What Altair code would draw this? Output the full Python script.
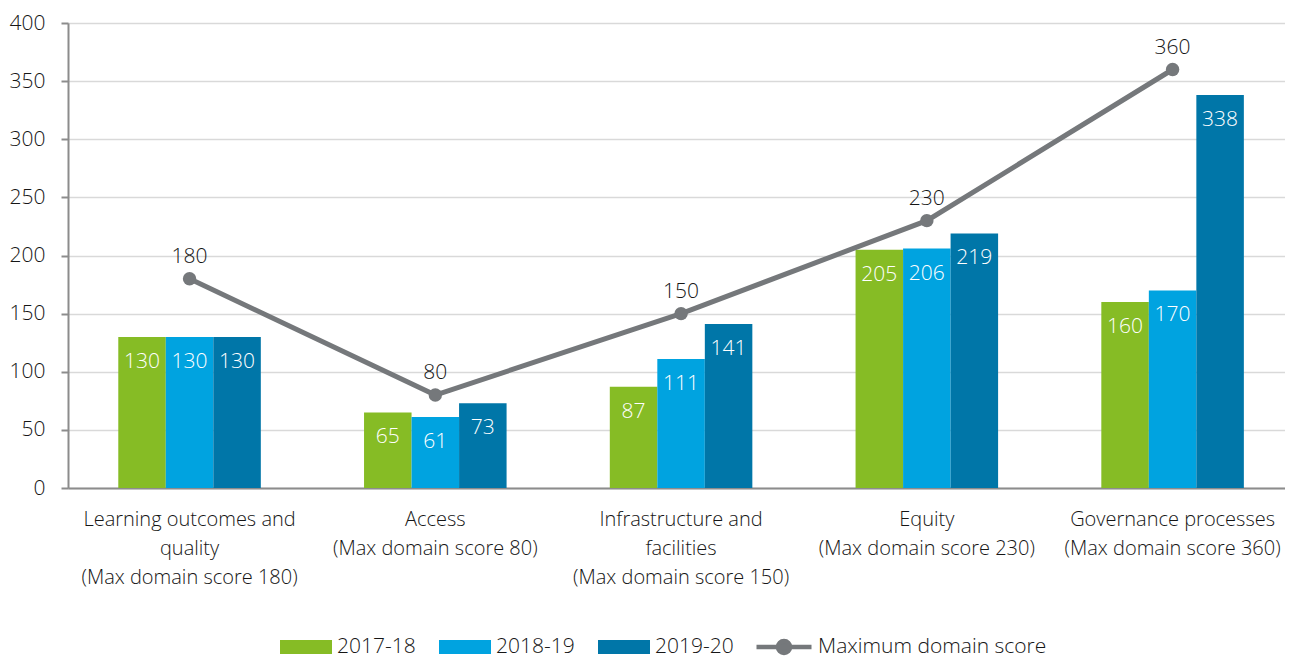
import altair as alt
import pandas as pd

categories = [
    "Learning outcomes and|quality|(Max domain score 180)",
    "Access|(Max domain score 80)",
    "Infrastructure and|facilities|(Max domain score 150)",
    "Equity|(Max domain score 230)",
    "Governance processes|(Max domain score 360)",
]
years = ["2017-18", "2018-19", "2019-20"]
score_2017_18 = [130, 65, 87, 205, 160]
score_2018_19 = [130, 61, 111, 206, 170]
score_2019_20 = [130, 73, 141, 219, 338]
max_domain_score = [180, 80, 150, 230, 360]
line_series = "Maximum domain score"
y_ticks = [0, 50, 100, 150, 200, 250, 300, 350, 400]

bar_colors = ["#86BC25", "#00A3E0", "#0076A8"]
line_color = "#75787B"
text_color = "#161616"
axis_color = "#8c8c8c"
FONT = "Open Sans"
FS = 21
FW = 300

rows = []
for yr, vals in zip(years, [score_2017_18, score_2018_19, score_2019_20]):
    for c, v in zip(categories, vals):
        rows.append({"category": c, "year": yr, "value": v})
bars_df = pd.DataFrame(rows)
line_df = pd.DataFrame({"category": categories, "value": max_domain_score,
                        "series": [line_series] * len(categories)})

x_enc = alt.X(
    "category:N", sort=categories,
    scale=alt.Scale(paddingInner=0.42, paddingOuter=0.186, align=0.55),
    axis=alt.Axis(title=None, labelAngle=0, labelExpr="split(datum.label, '|')",
                  ticks=False, tickSize=0, labelPadding=21, labelLineHeight=29,
                  domainColor=axis_color, domainWidth=2, grid=False,
                  labelFontSize=20, labelFontWeight=FW, labelColor=text_color,
                  labelBaseline="top", labelFont=FONT, labelLimit=0),
)
y_enc = alt.Y(
    "value:Q",
    scale=alt.Scale(domain=[0, 400], nice=False),
    axis=alt.Axis(values=y_ticks, title=None, tickSize=7, labelPadding=16,
                  domainColor=axis_color, domainWidth=2, tickColor=axis_color,
                  tickWidth=2, gridColor="#D9D9D9", gridWidth=1.5,
                  labelFontSize=FS, labelFontWeight=FW, labelColor=text_color,
                  labelFont=FONT),
)

rect_path = "M-1,-0.27H1V0.27H-1Z"
line_path = ("M-1,0H1M-0.22,0A0.22,0.22,0,1,0,0.22,0A0.22,0.22,0,1,0,-0.22,0")

bars = alt.Chart(bars_df).mark_bar().encode(
    x=x_enc,
    xOffset=alt.XOffset("year:N", sort=years, scale=alt.Scale(paddingInner=0, paddingOuter=0)),
    y=y_enc,
    color=alt.Color(
        "year:N", sort=years,
        scale=alt.Scale(domain=years, range=bar_colors),
        legend=alt.Legend(title=None, orient="none", legendX=212, legendY=598,
                          direction="horizontal", columns=3,
                          symbolType=rect_path, symbolSize=2704,
                          symbolStrokeWidth=0, labelFontSize=FS, labelFont=FONT,
                          labelFontWeight=FW, labelLimit=0,
                          labelColor=text_color, labelOffset=5, columnPadding=23,
                          padding=0),
    ),
)

bar_text = alt.Chart(bars_df).mark_text(
    color="white", fontSize=FS, fontWeight=FW, font=FONT, baseline="middle", dy=25
).encode(
    x=x_enc,
    xOffset=alt.XOffset("year:N", sort=years),
    y=y_enc,
    text=alt.Text("value:Q"),
)

line = alt.Chart(line_df).mark_line(strokeWidth=5).encode(
    x=x_enc,
    y=y_enc,
    stroke=alt.Stroke(
        "series:N",
        scale=alt.Scale(domain=[line_series], range=[line_color]),
        legend=alt.Legend(title=None, orient="none", legendX=686, legendY=594,
                          symbolType=line_path, symbolSize=3025,
                          symbolStrokeWidth=4.5, symbolFillColor=line_color,
                          symbolStrokeColor=line_color,
                          labelFontSize=FS, labelFont=FONT, labelFontWeight=FW,
                          labelColor=text_color, labelLimit=0,
                          labelOffset=4, padding=0),
    ),
)

points = alt.Chart(line_df).mark_circle(size=180, color=line_color, opacity=1).encode(
    x=x_enc,
    y=y_enc,
)

line_text = alt.Chart(line_df).mark_text(
    color=text_color, fontSize=FS, fontWeight=FW, font=FONT, baseline="middle", dy=-22
).encode(
    x=x_enc,
    y=y_enc,
    text=alt.Text("value:Q"),
)

chart = alt.layer(bars, bar_text, line, points, line_text).properties(
    width=1217, height=465,
    autosize=alt.AutoSizeParams(type="none"),
    padding={"left": 60, "top": 15, "right": 0, "bottom": 172},
).configure_view(stroke=None).configure(font=FONT)

chart.save("out.html", embed_options={"renderer": "svg", "actions": False})
